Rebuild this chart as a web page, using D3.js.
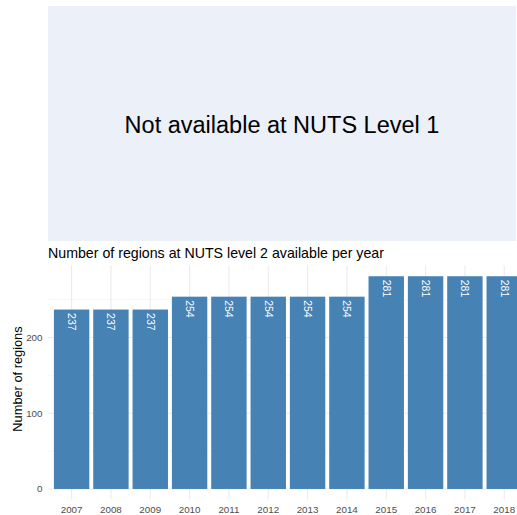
<!DOCTYPE html>
<html><head><meta charset="utf-8">
<script src="https://cdn.jsdelivr.net/npm/d3@7"></script>
<style>body{margin:0;background:#fff;} svg{display:block;font-family:"Liberation Sans",Arial,sans-serif;}</style>
</head><body>
<script>
const years = ["2007","2008","2009","2010","2011","2012","2013","2014","2015","2016","2017","2018"];
const regions = [237,237,237,254,254,254,254,254,281,281,281,281];
const yTicks = [0,100,200];
const yMinor = [50,150,250];
const placeholderText = "Not available at NUTS Level 1";
const chartTitle = "Number of regions at NUTS level 2 available per year";
const yTitle = "Number of regions";

(function(){
const W = 517, H = 515;
const svg = d3.select("body").append("svg").attr("width", W).attr("height", H);

// top placeholder panel
const tp = {x0: 48, x1: 516, y0: 6, y1: 241};
svg.append("rect").attr("x", tp.x0).attr("y", tp.y0).attr("width", tp.x1 - tp.x0).attr("height", tp.y1 - tp.y0).attr("fill", "#ECF0F9");
svg.append("text").attr("x", (tp.x0 + tp.x1)/2).attr("y", 133)
  .attr("text-anchor", "middle").attr("font-size", 23.5).attr("fill", "#000").text(placeholderText);

// bottom bar chart
const step = 39.33;
const left = 48;
const n = years.length;
const start = left + 0.1*step;
const x = d3.scaleBand().domain(years).range([start, start + n*step]).paddingInner(0.1).paddingOuter(0.05);
const xc = d => x(d) + x.bandwidth()/2;
const yMax = d3.max(regions);
const y = d3.scaleLinear().domain([-0.05*yMax, 1.05*yMax]).range([499.6, 265.6]);

const plotTop = y(1.05*yMax), plotBot = y(-0.05*yMax);
const g = svg.append("g");
g.selectAll(".ymin").data(yMinor).join("line")
  .attr("x1", left).attr("x2", W).attr("y1", d => y(d)).attr("y2", d => y(d))
  .attr("stroke", "#F2F2F2").attr("stroke-width", 0.6);
g.selectAll(".ymaj").data(yTicks).join("line")
  .attr("x1", left).attr("x2", W).attr("y1", d => y(d)).attr("y2", d => y(d))
  .attr("stroke", "#EBEBEB").attr("stroke-width", 1.1);
g.selectAll(".xmaj").data(years).join("line")
  .attr("x1", d => xc(d)).attr("x2", d => xc(d)).attr("y1", plotTop).attr("y2", plotBot)
  .attr("stroke", "#EBEBEB").attr("stroke-width", 1.1);

g.selectAll(".bar").data(years).join("rect")
  .attr("x", d => x(d)).attr("width", x.bandwidth())
  .attr("y", (d,i) => y(regions[i])).attr("height", (d,i) => y(0) - y(regions[i]))
  .attr("fill", "#4682B4");

g.selectAll(".lab").data(years).join("text")
  .attr("transform", (d,i) => `translate(${xc(d)},${y(regions[i]) + 3.5}) rotate(90)`)
  .attr("dy", "0.35em").attr("text-anchor", "start")
  .attr("font-size", 10.5).attr("fill", "#fff").text((d,i) => regions[i]);

g.selectAll(".yt").data(yTicks).join("text")
  .attr("x", 42.5).attr("y", d => y(d)).attr("dy", "0.35em").attr("text-anchor", "end")
  .attr("font-size", 9.8).attr("fill", "#4D4D4D").text(d => d);
g.selectAll(".xt").data(years).join("text")
  .attr("x", d => xc(d)).attr("y", 512.5).attr("text-anchor", "middle")
  .attr("font-size", 9.8).attr("fill", "#4D4D4D").text(d => d);

svg.append("text").attr("transform", `translate(21.5,379) rotate(-90)`)
  .attr("text-anchor", "middle").attr("font-size", 12.8).attr("fill", "#000").text(yTitle);
svg.append("text").attr("x", 48).attr("y", 258).attr("font-size", 14.2).attr("fill", "#000").text(chartTitle);
})();
</script>
</body></html>
